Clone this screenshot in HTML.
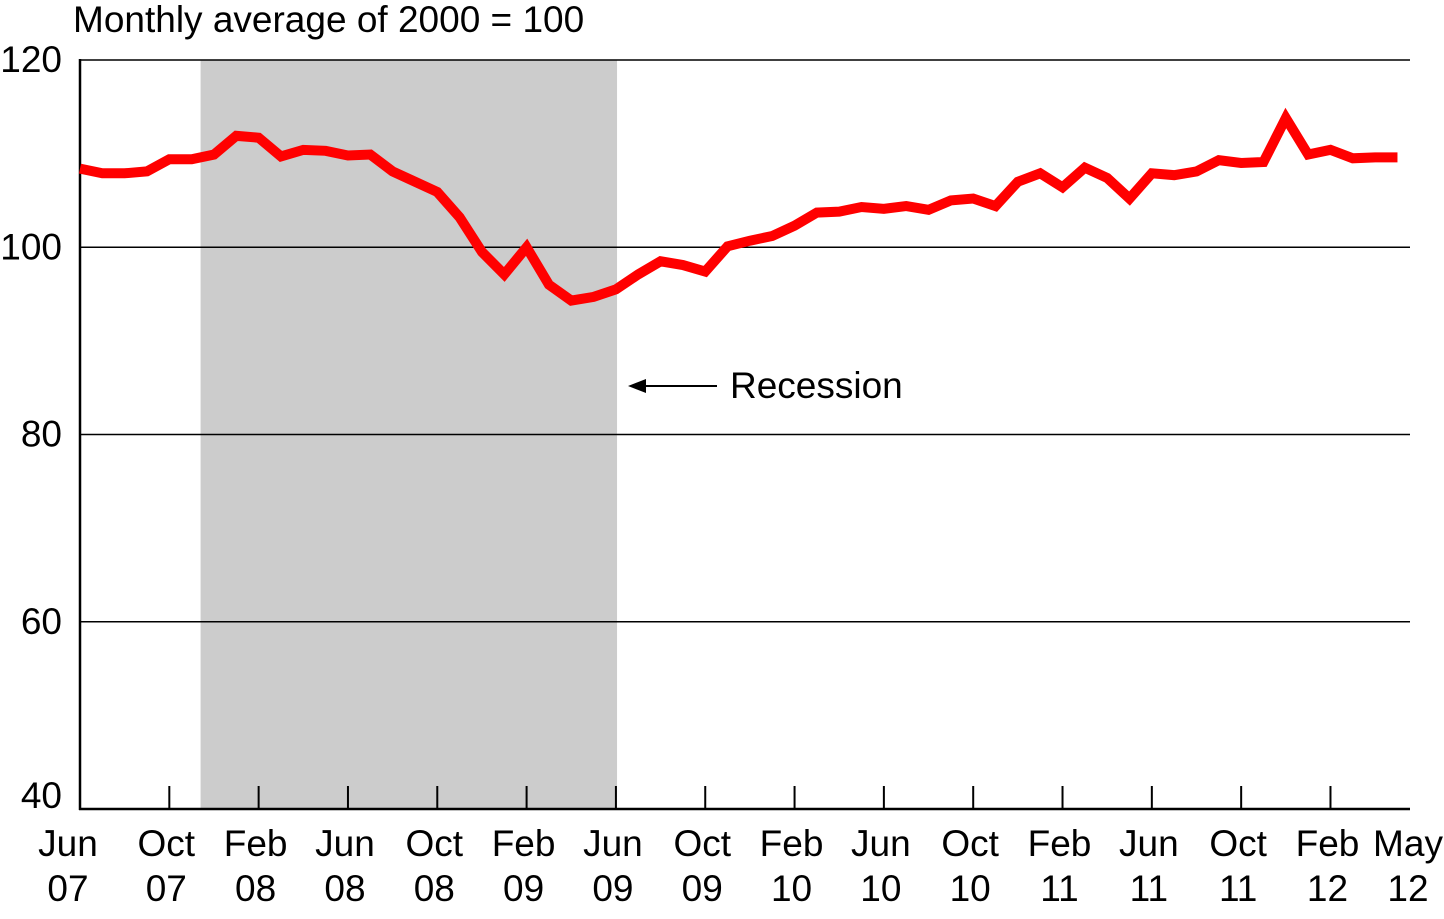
<!DOCTYPE html>
<html><head><meta charset="utf-8"><style>
body{margin:0;background:#fff}
svg text{font-family:"Liberation Sans",Arial,sans-serif;fill:#000}
</style></head><body>
<svg width="1444" height="914" viewBox="0 0 1444 914">
<g id="g"></g>
</svg>
<script>
const values=[108.4,107.9,107.9,108.1,109.4,109.4,109.9,111.9,111.7,109.7,110.4,110.3,109.8,109.9,108.1,107.0,105.9,103.2,99.5,97.1,100,96,94.3,94.7,95.5,97.1,98.5,98.1,97.4,100.1,100.7,101.2,102.3,103.7,103.8,104.3,104.1,104.4,104,105,105.2,104.4,107,107.9,106.4,108.5,107.4,105.2,107.9,107.7,108.1,109.3,109,109.1,113.8,109.9,110.4,109.5,109.6,109.6];
const yTicks=[40,60,80,100,120];
const xTickIdx=[0,4,8,12,16,20,24,28,32,36,40,44,48,52,56,59];
const xTickLabels=[["Jun","07"],["Oct","07"],["Feb","08"],["Jun","08"],["Oct","08"],["Feb","09"],["Jun","09"],["Oct","09"],["Feb","10"],["Jun","10"],["Oct","10"],["Feb","11"],["Jun","11"],["Oct","11"],["Feb","12"],["May","12"]];
const recession=[5.4,24.05];
const NS="http://www.w3.org/2000/svg";
const g=document.getElementById('g');
const x=i=>80+i*22.33;
const y=v=>809-(v-40)*(749/80);
function mk(t,a,txt){const e=document.createElementNS(NS,t);for(const k in a)e.setAttribute(k,a[k]);if(txt!==undefined)e.textContent=txt;g.appendChild(e);return e;}
let e;
e=mk('rect',{x:x(recession[0]),y:y(120),width:x(recession[1])-x(recession[0]),height:y(40)-y(120),fill:'#cccccc'});


yTicks.forEach(v=>{
 if(v>40){e=mk('line',{x1:80,x2:1410,y1:y(v),y2:y(v),stroke:'#000','stroke-width':1.5});
 
 }
 e=mk('text',{x:62,y:y(v)+(v==40?-1:12),'text-anchor':'end','font-size':37},String(v));
 
 
});
e=mk('line',{x1:80,x2:80,y1:59,y2:810,stroke:'#000','stroke-width':2.5});


e=mk('line',{x1:79,x2:1410,y1:809,y2:809,stroke:'#000','stroke-width':2.5});


xTickIdx.forEach((i,k)=>{
 if(k>0&&k<xTickIdx.length-1){e=mk('line',{x1:x(i),x2:x(i),y1:786,y2:809,stroke:'#000','stroke-width':2});
 
 }
 let cx=x(i)-3; if(k==0)cx=68; if(k==xTickLabels.length-1)cx=1408;
 e=mk('text',{x:cx,y:856,'text-anchor':'middle','font-size':37},xTickLabels[k][0]);
 
 
 e=mk('text',{x:cx,y:901,'text-anchor':'middle','font-size':37},xTickLabels[k][1]);
 
 
});
e=mk('polyline',{points:values.map((v,i)=>x(i)+','+y(v)).join(' '),fill:'none',stroke:'#ff0000','stroke-width':10,'stroke-linejoin':'miter'});


e=mk('text',{x:73,y:32,'font-size':37},'Monthly average of 2000 = 100');


e=mk('line',{x1:640,x2:717,y1:386,y2:386,stroke:'#000','stroke-width':2});


e=mk('polygon',{points:'628,386 646,379 646,393',fill:'#000'});


e=mk('text',{x:730,y:398,'font-size':37},'Recession');


</script>
</body></html>
